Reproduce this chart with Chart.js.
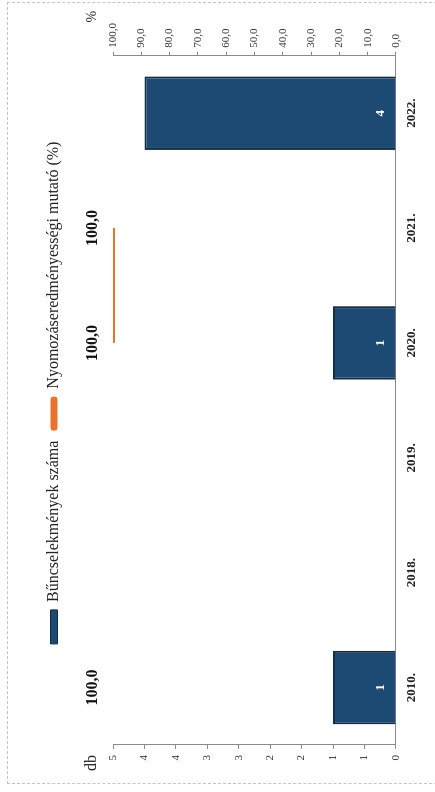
<!DOCTYPE html>
<html>
<head>
<meta charset="utf-8">
<script src="https://cdn.jsdelivr.net/npm/chart.js@4/dist/chart.umd.min.js"></script>
<style>
  html, body { margin: 0; padding: 0; background: #fff; }
  body { width: 435px; height: 792px; overflow: hidden; position: relative; }
  #frame {
    position: absolute; left: 7px; top: 2px; width: 440px; height: 782px;
    border: 1px dashed #c4c4c4; box-sizing: border-box;
  }
  /* a diagram fekvő, ezért elforgatva rajzoljuk */
  #wrap {
    position: absolute; left: 0; top: 0; width: 792px; height: 435px;
    transform-origin: 0 0;
    transform: translate(0px, 792px) rotate(-90deg);
  }
</style>
</head>
<body>
<div id="frame"></div>
<div id="wrap"><canvas id="chart" width="792" height="435"></canvas></div>
<script>
const years = ['2010.', '2018.', '2019.', '2020.', '2021.', '2022.'];
const crimeCounts = [1, null, null, 1, null, 4];          // Bűncselekmények száma (db)
const clearanceRates = [100, null, null, 100, 100, null]; // Nyomozáseredményességi mutató (%)
const countTicks = [0, 0.5, 1, 1.5, 2, 2.5, 3, 3.5, 4, 4.5];
const rateTicks = [0, 10, 20, 30, 40, 50, 60, 70, 80, 90, 100];

const serif = '"Liberation Serif", "DejaVu Serif", serif';
const fmtRate = v => v.toFixed(1).replace('.', ',');

// több hely a jelmagyarázat alatt
const legendSpacer = {
  id: 'legendSpacer',
  beforeInit(chart) {
    const fit = chart.legend.fit;
    chart.legend.fit = function () {
      fit.call(this);
      this.height += 41;
    };
  }
};

// adatcímkék és tengelycímek
const valueLabels = {
  id: 'valueLabels',
  afterDatasetsDraw(chart) {
    const { ctx, chartArea } = chart;
    ctx.save();
    ctx.textAlign = 'center';
    ctx.textBaseline = 'middle';

    ctx.font = 'bold 13px ' + serif;
    ctx.fillStyle = '#ffffff';
    chart.getDatasetMeta(0).data.forEach((bar, i) => {
      if (crimeCounts[i] == null) return;
      ctx.fillText(String(crimeCounts[i]), bar.x, bar.base - 15);
    });

    ctx.font = 'bold 16px ' + serif;
    ctx.fillStyle = '#111111';
    chart.getDatasetMeta(1).data.forEach((pt, i) => {
      if (clearanceRates[i] == null) return;
      ctx.fillText(fmtRate(clearanceRates[i]), pt.x, pt.y - 20);
    });

    ctx.fillStyle = '#222222';
    ctx.font = '16px ' + serif;
    ctx.fillText('db', chartArea.left - 18, chartArea.top - 21);
    ctx.font = '14px ' + serif;
    ctx.fillText('%', chartArea.right + 39, chartArea.top - 21);
    ctx.restore();
  }
};

new Chart(document.getElementById('chart'), {
  data: {
    labels: years,
    datasets: [
      {
        type: 'bar',
        label: 'Bűncselekmények száma',
        data: crimeCounts,
        yAxisID: 'y',
        backgroundColor: '#1c4a72',
        borderColor: '#132c44',
        borderWidth: 2,
        categoryPercentage: 1,
        barPercentage: 0.64
      },
      {
        type: 'line',
        label: 'Nyomozáseredményességi mutató (%)',
        data: clearanceRates,
        yAxisID: 'y1',
        borderColor: '#e8732a',
        backgroundColor: '#e8732a',
        borderWidth: 4,
        borderCapStyle: 'butt',
        pointRadius: 0,
        spanGaps: false,
        tension: 0
      }
    ]
  },
  options: {
    responsive: false,
    animation: false,
    devicePixelRatio: 1,
    layout: { padding: { top: 36, left: 25.5, right: 19, bottom: 7.5 } },
    plugins: {
      legend: {
        position: 'top',
        labels: {
          boxWidth: 34,
          boxHeight: 7,
          padding: 10,
          color: '#222',
          font: { family: serif, size: 16 },
          generateLabels(chart) {
            const items = Chart.defaults.plugins.legend.labels.generateLabels(chart);
            items.forEach(it => {
              it.lineWidth = it.datasetIndex === 1 ? 0 : 1;
              it.borderRadius = it.datasetIndex === 1 ? 3 : 0;
            });
            return items;
          },
          useBorderRadius: true
        }
      },
      tooltip: { enabled: false }
    },
    scales: {
      x: {
        grid: { display: false, drawTicks: false, tickLength: 0 },
        border: { display: true, color: '#8a8a8a', width: 1 },
        ticks: {
          padding: 8,
          color: '#222',
          font: { family: serif, size: 13, weight: 'bold' }
        }
      },
      y: {
        position: 'left',
        min: 0,
        max: 4.5,
        afterBuildTicks(scale) { scale.ticks = countTicks.map(v => ({ value: v })); },
        grid: { drawOnChartArea: false, tickLength: 4, color: '#8a8a8a' },
        border: { display: true, color: '#8a8a8a', width: 1 },
        ticks: {
          padding: 6,
          color: '#333',
          font: { family: serif, size: 11 },
          callback: v => String(Math.round(v))
        }
      },
      y1: {
        position: 'right',
        min: 0,
        max: 100,
        afterBuildTicks(scale) { scale.ticks = rateTicks.map(v => ({ value: v })); },
        grid: { drawOnChartArea: false, tickLength: 4, color: '#8a8a8a' },
        border: { display: true, color: '#8a8a8a', width: 1 },
        ticks: {
          padding: 4,
          color: '#333',
          font: { family: serif, size: 11 },
          callback: v => fmtRate(v)
        }
      }
    }
  },
  plugins: [legendSpacer, valueLabels]
});
</script>
</body>
</html>
